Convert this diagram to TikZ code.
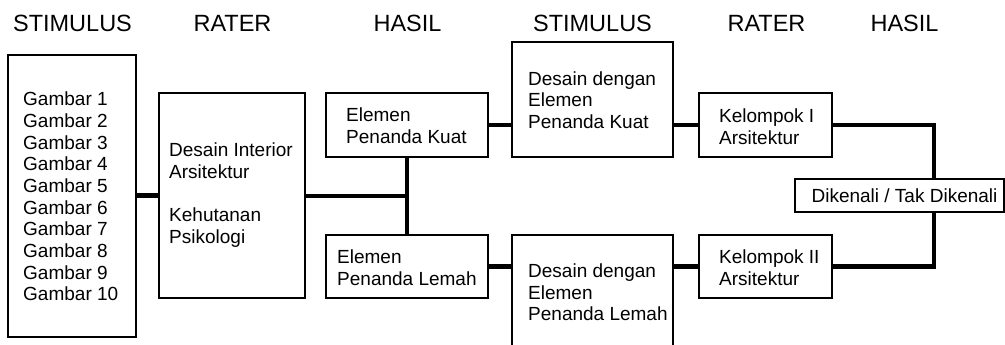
\documentclass[tikz,border=0pt]{standalone}
\usepackage{fontspec}
\setmainfont{Liberation Sans}
\tikzset{
  boxnode/.style={draw, line width=2pt, rectangle, inner sep=0pt},
  txt/.style={inner sep=0pt, align=left, font=\fontsize{19}{21.7}\selectfont, anchor=west},
  head/.style={inner sep=0pt, anchor=base, font=\fontsize{23.5}{26}\selectfont},
  conn/.style={line width=4.5pt},
}
\begin{document}
\begin{tikzpicture}[x=1pt,y=-1pt]
\useasboundingbox (0,0) rectangle (1005,345);
% headers
\node[head] (h1) at (72.5,32) {STIMULUS};
\node[head] (h2) at (232.5,32) {RATER};
\node[head] (h3) at (407.5,32) {HASIL};
\node[head] (h4) at (592.5,32) {STIMULUS};
\node[head] (h5) at (766.5,32) {RATER};
\node[head] (h6) at (904.5,32) {HASIL};
% boxes
\node[boxnode, minimum width=128pt, minimum height=282pt] (b1) at (72,196) {};
\node[boxnode, minimum width=146pt, minimum height=205pt] (b2) at (232,195.5) {};
\node[boxnode, minimum width=162pt, minimum height=64pt] (kuat) at (407,125) {};
\node[boxnode, minimum width=162pt, minimum height=63pt] (lemah) at (407,266.5) {};
\node[boxnode, minimum width=161pt, minimum height=115pt] (dk) at (592.5,99.5) {};
\node[boxnode, minimum width=161pt, minimum height=116pt] (dl) at (592.5,293) {};
\node[boxnode, minimum width=133pt, minimum height=64pt] (k1) at (765.5,125) {};
\node[boxnode, minimum width=133pt, minimum height=63pt] (k2) at (765.5,266.5) {};
\node[boxnode, minimum width=209pt, minimum height=33pt] (dik) at (899.5,195.5) {};
% texts
\node[txt] (t1) at (23,196.5) {Gambar 1\\Gambar 2\\Gambar 3\\Gambar 4\\Gambar 5\\Gambar 6\\Gambar 7\\Gambar 8\\Gambar 9\\Gambar 10};
\node[txt] (t2) at (169,195) {Desain Interior\\Arsitektur\\[21.7pt]Kehutanan\\Psikologi};
\node[txt] (tkuat) at (346,126) {Elemen\\Penanda Kuat};
\node[txt] (tdk) at (528,100) {Desain dengan\\Elemen\\Penanda Kuat};
\node[txt] (tlemah) at (337,267.5) {Elemen\\Penanda Lemah};
\node[txt] (tdl) at (528,292.5) {Desain dengan\\Elemen\\Penanda Lemah};
\node[txt] (tk1) at (719,126.5) {Kelompok I\\Arsitektur};
\node[txt] (tk2) at (719,267.5) {Kelompok II\\Arsitektur};
\node[txt, anchor=center] (tdik) at (904.5,196) {Dikenali / Tak Dikenali};
% connectors
\coordinate (j) at (407,196);
\coordinate (v) at (934,196);
\draw[conn] (b2.west) -- (b2.west -| b1.east);
\draw[conn] (b2.east |- j) -- (j);
\draw[conn] (kuat.south) -- (lemah.north);
\draw[conn] (kuat.east) -- (kuat.east -| dk.west);
\draw[conn] (lemah.east) -- (lemah.east -| dl.west);
\draw[conn] (k1.west) -- (k1.west -| dk.east);
\draw[conn] (k2.west) -- (k2.west -| dl.east);
\draw[conn] (k1.east) -| (v |- dik.north);
\draw[conn] (k2.east) -| (v |- dik.south);
\end{tikzpicture}
\end{document}
